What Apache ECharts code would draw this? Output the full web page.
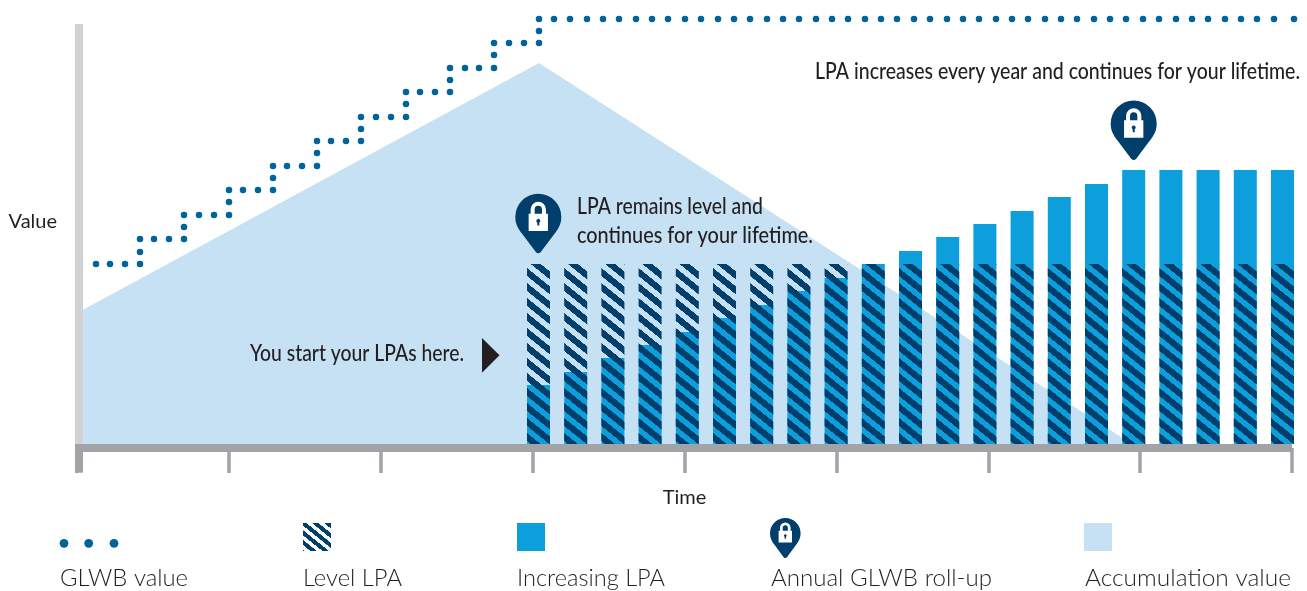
<!DOCTYPE html>
<html>
<head>
<meta charset="utf-8">
<style>html,body{margin:0;padding:0;background:#fff}#chart{width:1307px;height:591px}</style>
<script src="https://cdn.jsdelivr.net/npm/echarts@6/dist/echarts.min.js"></script>
</head>
<body>
<div id="chart"></div>
<script>
// Values are in arbitrary chart units (the reference has no numeric scale).
const accumulationValue = [[0, 131], [462, 381], [1055, 0]];
const barTimes = [461.5, 498.7, 535.9, 573.1, 610.3, 647.5, 684.7, 721.9, 759.1, 796.3, 833.5, 870.7, 907.9, 945.1, 982.3, 1019.5, 1056.7, 1093.9, 1131.1, 1168.3, 1205.5];
const increasingLPA = [59, 72, 86, 99, 112, 126, 139, 153, 166, 180, 193, 207, 220, 233, 247, 260, 274, 274, 274, 274, 274];
const levelLPA = [180, 180, 180, 180, 180, 180, 180, 180, 180, 180, 180, 180, 180, 180, 180, 180, 180, 180, 180, 180, 180];
const glwbValue = [
  [19,180],[33,180],[48,180],[63,180],[63,192],[63,205],
  [77,205],[92,205],[107,205],[107,217],[107,229],
  [122,229],[137,229],[152,229],[152,242],[152,254],
  [166,254],[181,254],[196,254],[196,266],[196,278],
  [210,278],[225,278],[240,278],[240,291],[240,303],
  [254,303],[269,303],[284,303],[284,315],[284,327],
  [299,327],[314,327],[329,327],[329,340],[329,352],
  [343,352],[358,352],[373,352],[373,364],[373,376],
  [388,376],[402,376],[417,376],[417,389],[417,401],
  [432,401],[447,401],[462,401],[462,413],[462,425],
  [477,425],[493,425],[510,425],[526,425],[542,425],[559,425],[575,425],[591,425],[608,425],[624,425],
  [641,425],[657,425],[673,425],[690,425],[706,425],[722,425],[739,425],[755,425],[771,425],[788,425],
  [804,425],[820,425],[837,425],[853,425],[870,425],[886,425],[902,425],[919,425],[935,425],[951,425],
  [968,425],[984,425],[1000,425],[1017,425],[1033,425],[1049,425],[1066,425],[1082,425],[1099,425],[1115,425],
  [1131,425],[1148,425],[1164,425],[1180,425],[1197,425],[1217,425]
];
const rollUps = [[461.3, 190.7], [1056.7, 284]];
const seriesNames = ['GLWB value', 'Level LPA', 'Increasing LPA', 'Annual GLWB roll-up', 'Accumulation value'];

const NAVY = '#003e6b', BLUE = '#0d9fdc', DOT = '#00639a', LIGHT = '#c6e0f4', GREY = '#a1a3a6', INK = '#231f20';
const FONT = 'Lato, "Noto Sans", sans-serif';

const PIN = 'M23 0A23 23 0 0 1 46 23C46 30 43 35 39 40L25.5 58Q23 60.5 20.5 58L7 40C3 35 0 30 0 23A23 23 0 0 1 23 0Z';
const LOCK = 'M0 36H58V88H0ZM26 63V72H32V63A6 6 0 1 0 26 63ZM6 36V23A23 23 0 0 1 52 23V36H40V23A11 11 0 0 0 18 23V36Z';

function stripes() {
  const c = document.createElement('canvas');
  c.width = 186; c.height = 150;
  const g = c.getContext('2d');
  g.fillStyle = NAVY;
  for (let dy = -150; dy <= 150; dy += 150) {
    g.beginPath();
    g.moveTo(0, dy); g.lineTo(186, dy + 150); g.lineTo(186, dy + 230); g.lineTo(0, dy + 80);
    g.closePath(); g.fill();
  }
  return c;
}
const tile = stripes();
const hatch = { image: tile, repeat: 'repeat', x: 0, y: 8, scaleX: 0.1, scaleY: 0.1 };
const hatchSwatch = { image: tile, repeat: 'repeat', x: 0, y: 3, scaleX: 0.065, scaleY: 0.065 };

const measure = document.createElement('canvas').getContext('2d');
function label(text, x, cy, width, size, weight, color) {
  const font = (weight || 400) + ' ' + size + 'px ' + FONT;
  measure.font = font;
  return {
    type: 'text', x: x, y: cy, scaleX: width / measure.measureText(text).width, z: 20,
    style: { text: text, x: 0, y: 0, font: font, fill: color || INK, verticalAlign: 'middle', align: 'left' }
  };
}

const graphics = [
  { type: 'rect', shape: { x: 75, y: 444, width: 8, height: 28.7 }, style: { fill: GREY }, z: 10 },
  label('LPA increases every year and continues for your lifetime.', 815, 72, 485, 22.5, 500),
  label('LPA remains level and', 577, 207, 186, 22.5, 500),
  label('continues for your lifetime.', 577, 236, 236, 22.5, 500),
  label('You start your LPAs here.', 250, 354, 214, 22.5, 500),
  { type: 'polygon', shape: { points: [[482, 338], [499.5, 355.3], [482, 372.7]] }, style: { fill: INK }, z: 20 },
  // legend
  { type: 'circle', shape: { cx: 64, cy: 543.3, r: 4.4 }, style: { fill: DOT }, z: 20 },
  { type: 'circle', shape: { cx: 88.7, cy: 543.3, r: 4.4 }, style: { fill: DOT }, z: 20 },
  { type: 'circle', shape: { cx: 114, cy: 543.3, r: 4.4 }, style: { fill: DOT }, z: 20 },
  { type: 'rect', shape: { x: 303, y: 523, width: 28, height: 28 }, style: { fill: hatchSwatch }, z: 20 },
  { type: 'rect', shape: { x: 517, y: 523, width: 28, height: 28 }, style: { fill: BLUE }, z: 20 },
  { type: 'rect', shape: { x: 1084, y: 523, width: 28, height: 28 }, style: { fill: LIGHT }, z: 20 },
  label(seriesNames[0], 60, 578, 128, 24, 300, INK),
  label(seriesNames[1], 303, 578, 99, 24, 300, INK),
  label(seriesNames[2], 517, 578, 148, 24, 300, INK),
  label(seriesNames[3], 771, 578, 221, 24, 300, INK),
  label(seriesNames[4], 1085, 578, 206, 24, 300, INK)
];

const chart = echarts.init(document.getElementById('chart'), null, { renderer: 'canvas' });
chart.setOption({
  animation: false,
  backgroundColor: '#fff',
  grid: { left: 77, right: 15, top: 24, bottom: 147 },
  xAxis: {
    type: 'value', min: 0, max: 1215, interval: 151.875, offset: 4, z: 5,
    name: 'Time', nameLocation: 'middle', nameGap: 40,
    nameTextStyle: { fontFamily: FONT, fontSize: 20, color: INK },
    axisLine: { show: true, onZero: false, lineStyle: { color: GREY, width: 8, cap: 'butt' } },
    axisTick: { show: true, length: 25, lineStyle: { color: GREY, width: 3.5, cap: 'butt' } },
    axisLabel: { show: false }, splitLine: { show: false }
  },
  yAxis: {
    type: 'value', min: 0, max: 420, offset: -2, z: 5,
    name: 'Value', nameLocation: 'middle', nameRotate: 0, nameGap: 22,
    nameTextStyle: { fontFamily: FONT, fontSize: 20, color: INK, verticalAlign: 'bottom', lineHeight: 24 },
    axisLine: { show: true, onZero: false, lineStyle: { color: '#d1d2d4', width: 8, cap: 'butt' } },
    axisTick: { show: false }, axisLabel: { show: false }, splitLine: { show: false }
  },
  series: [
    { name: seriesNames[4], type: 'line', z: 1, data: accumulationValue, showSymbol: false, symbol: 'none',
      lineStyle: { width: 0 }, areaStyle: { color: LIGHT, opacity: 1 } },
    { name: seriesNames[2], type: 'bar', z: 2, barWidth: 23, barGap: '-100%', clip: false,
      data: barTimes.map((t, i) => [t, increasingLPA[i]]), itemStyle: { color: BLUE } },
    { name: seriesNames[1], type: 'bar', z: 3, barWidth: 23, barGap: '-100%', clip: false,
      data: barTimes.map((t, i) => [t, levelLPA[i]]), itemStyle: { color: hatch } },
    { name: seriesNames[0], type: 'scatter', z: 4, clip: false, data: glwbValue, symbol: 'circle', symbolSize: 6.5,
      itemStyle: { color: DOT, opacity: 1 } },
    { name: seriesNames[3], type: 'scatter', z: 5, clip: false, data: rollUps,
      symbol: 'path://' + PIN, symbolSize: [46, 59.5], symbolOffset: [0, -29.7], itemStyle: { color: NAVY, opacity: 1 } },
    { name: 'lock', type: 'scatter', z: 6, clip: false, data: rollUps,
      symbol: 'path://' + LOCK, symbolSize: [19.3, 29.3], symbolOffset: [0, -37], itemStyle: { color: '#fff', opacity: 1 } },
    { name: 'legend pin', type: 'custom', coordinateSystem: 'none', z: 20, silent: true, data: [0],
      renderItem: function () {
        return { type: 'group', children: [
          { type: 'path', shape: { pathData: PIN, layout: 'cover', x: 770, y: 518, width: 30.6, height: 40 }, style: { fill: NAVY } },
          { type: 'path', shape: { pathData: LOCK, layout: 'cover', x: 778.6, y: 522.5, width: 13.4, height: 20 }, style: { fill: '#fff' } }
        ] };
      } }
  ],
  graphic: graphics
});
</script>
</body>
</html>
